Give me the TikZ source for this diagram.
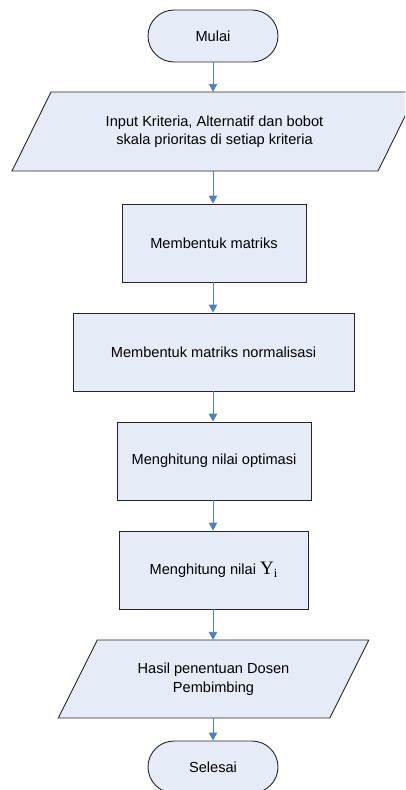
\documentclass[tikz,border=0pt]{standalone}
\usepackage{fontspec}
\setmainfont{Liberation Sans}
\newfontfamily\serifY{Liberation Serif}
\usetikzlibrary{arrows.meta,calc}
\definecolor{boxfill}{HTML}{E6ECF7}
\definecolor{linkblue}{HTML}{4F81BD}
\definecolor{edgecol}{HTML}{262626}
\begin{document}
\begin{tikzpicture}[x=1pt,y=-1pt,
  txt/.style={font=\fontsize{14.6}{18.5}\selectfont,align=center,inner sep=0pt},
  base/.style={txt,fill=boxfill,draw=edgecol,line width=0.9pt},
  term/.style={base,rectangle,rounded corners=26pt,minimum width=130pt,minimum height=52pt},
  procbox/.style={base,rectangle,minimum height=78pt},
  iobox/.style={txt,rectangle,minimum height=78pt},
  iofill/.style={fill=boxfill,draw=edgecol,line width=0.9pt},
  link/.style={draw=linkblue,line width=0.9pt,-{Triangle[length=8pt,width=8.5pt]}}]
\useasboundingbox (0,0) rectangle (405,790);
\clip (0,0) rectangle (405,790);
% terminator start
\node[term] (mulai) at (213,36) {Mulai};
% input parallelogram
\coordinate (inc) at (214.5,131.5);
\path[iofill] ($(inc)+(-183,39.5)+(-19.5,0)$) -- ($(inc)+(183,39.5)+(-19.5,0)$)
  -- ($(inc)+(183,-39.5)+(19.5,0)$) -- ($(inc)+(-183,-39.5)+(19.5,0)$) -- cycle;
\node[iobox,minimum width=366pt,minimum height=79pt] (input) at (inc)
  {Input Kriteria, Alternatif dan bobot\\skala prioritas di setiap kriteria};
% processes
\node[procbox,minimum width=184pt] (matriks) at (214,243) {Membentuk matriks};
\node[procbox,minimum width=281pt] (normal) at (213.5,352) {Membentuk matriks normalisasi};
\node[procbox,minimum width=194pt] (optim) at (214,461) {Menghitung nilai optimasi};
\node[procbox,minimum width=189pt] (yi) at (213.5,570)
  {Menghitung nilai {\serifY\fontsize{19}{19}\selectfont Y}\raisebox{-2.5pt}{\serifY\fontsize{12.5}{12.5}\selectfont i}};
% output parallelogram
\coordinate (hc) at (213.5,679);
\path[iofill] ($(hc)+(-135.75,39)+(-19.5,0)$) -- ($(hc)+(135.75,39)+(-19.5,0)$)
  -- ($(hc)+(135.75,-39)+(19.5,0)$) -- ($(hc)+(-135.75,-39)+(19.5,0)$) -- cycle;
\node[iobox,minimum width=271.5pt] (hasil) at (hc) {Hasil penentuan Dosen\\Pembimbing};
% terminator end
\node[term] (selesai) at (213,767) {Selesai};
% connectors
\draw[link] (mulai.south) -- (mulai.south |- input.north);
\draw[link] (mulai.south |- input.south) -- (mulai.south |- matriks.north);
\draw[link] (mulai.south |- matriks.south) -- (mulai.south |- normal.north);
\draw[link] (mulai.south |- normal.south) -- (mulai.south |- optim.north);
\draw[link] (mulai.south |- optim.south) -- (mulai.south |- yi.north);
\draw[link] (mulai.south |- yi.south) -- (mulai.south |- hasil.north);
\draw[link] (mulai.south |- hasil.south) -- (selesai.north);
\end{tikzpicture}
\end{document}
